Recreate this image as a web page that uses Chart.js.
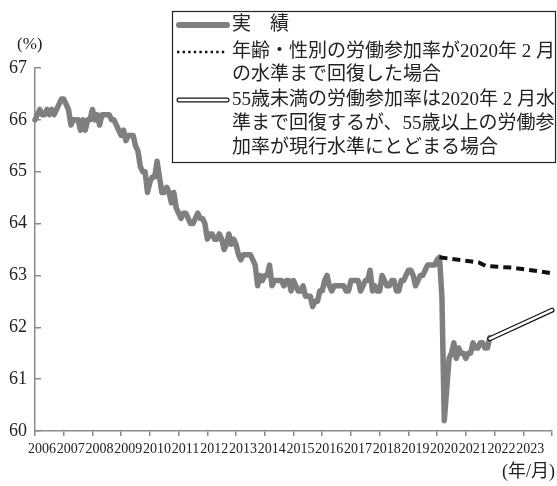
<!DOCTYPE html>
<html lang="ja">
<head>
<meta charset="utf-8">
<title>労働参加率</title>
<script src="https://cdn.jsdelivr.net/npm/chart.js@4.4.1/dist/chart.umd.min.js"></script>
<style>
  html, body { margin: 0; padding: 0; background: #fff; }
  #chart { display: block; }
</style>
</head>
<body>
<canvas id="chart" width="557" height="486"></canvas>
<script>
// --- Data (monthly) ---
const startYear = 2006;
const actualValues = [
  66.0, 66.1, 66.2, 66.1, 66.1, 66.2, 66.1, 66.2, 66.1, 66.2, 66.3, 66.4, // 2006
  66.4, 66.3, 66.2, 65.9, 66.0, 66.0, 66.0, 65.8, 66.0, 65.8, 66.0, 66.0, // 2007
  66.2, 66.0, 66.1, 65.9, 66.1, 66.1, 66.1, 66.1, 66.0, 66.0, 65.9, 65.8, // 2008
  65.7, 65.8, 65.6, 65.7, 65.7, 65.7, 65.5, 65.4, 65.1, 65.0, 65.0, 64.6, // 2009
  64.8, 64.9, 64.9, 65.2, 64.9, 64.6, 64.6, 64.7, 64.6, 64.4, 64.6, 64.3, // 2010
  64.2, 64.1, 64.2, 64.2, 64.1, 64.0, 64.0, 64.1, 64.2, 64.1, 64.1, 64.0, // 2011
  63.7, 63.8, 63.8, 63.7, 63.7, 63.8, 63.7, 63.5, 63.6, 63.8, 63.6, 63.7, // 2012
  63.6, 63.4, 63.3, 63.4, 63.4, 63.4, 63.4, 63.3, 63.2, 62.8, 63.0, 62.9, // 2013
  63.0, 63.0, 63.2, 62.8, 62.9, 62.9, 62.9, 62.9, 62.8, 62.9, 62.9, 62.7, // 2014
  62.9, 62.8, 62.7, 62.7, 62.8, 62.6, 62.6, 62.6, 62.4, 62.5, 62.5, 62.7, // 2015
  62.7, 62.9, 63.0, 62.8, 62.7, 62.8, 62.8, 62.8, 62.8, 62.8, 62.7, 62.7, // 2016
  62.9, 62.9, 62.9, 62.9, 62.7, 62.8, 62.9, 62.9, 63.1, 62.7, 62.8, 62.7, // 2017
  62.7, 63.0, 62.9, 62.8, 62.8, 62.9, 62.9, 62.7, 62.7, 62.9, 62.9, 63.0, // 2018
  63.1, 63.1, 63.0, 62.8, 62.9, 63.0, 63.0, 63.1, 63.2, 63.2, 63.2, 63.2, // 2019
  63.3, 63.35, 62.6, 60.2, 60.8, 61.4, 61.5, 61.7, 61.4, 61.6, 61.5, 61.5, // 2020
  61.4, 61.5, 61.5, 61.7, 61.6, 61.6, 61.7, 61.7, 61.6, 61.6, 61.8        // 2021
];

// scenario: participation by age/sex back to Feb 2020 level
const scenarioAYears  = [2020 + 1 / 12, 2020.6, 2021.2, 2021.45, 2021.7, 2022.6, 2023.55, 2024.0];
const scenarioAValues = [63.35, 63.31, 63.27, 63.25, 63.18, 63.15, 63.08, 63.04];

// scenario: under-55 recovers, 55+ stays at current level
const scenarioBYears  = [2021 + 10 / 12, 2024.0];
const scenarioBValues = [61.78, 62.33];

const yearLabels = ['2006', '2007', '2008', '2009', '2010', '2011', '2012', '2013', '2014',
                    '2015', '2016', '2017', '2018', '2019', '2020', '2021', '2022', '2023'];
const legendTexts = [
  ['実　績'],
  ['年齢・性別の労働参加率が2020年 2 月', 'の水準まで回復した場合'],
  ['55歳未満の労働参加率は2020年 2 月水', '準まで回復するが、55歳以上の労働参', '加率が現行水準にとどまる場合']
];

// --- Helpers ---
const GRAY = '#7f7f7f';
const AXIS = '#8a8a8a';
const SERIF = "'Liberation Serif', 'Noto Sans CJK JP', serif";

function toPoints(xs, ys) {
  return xs.map((x, i) => ({ x: x, y: ys[i] }));
}

const actualPoints = actualValues.map((v, i) => ({ x: startYear + i / 12, y: v }));

// Legend box + axis unit labels
const annotations = {
  id: 'annotations',
  afterDraw(chart) {
    const ctx = chart.ctx;
    ctx.save();

    // unit labels
    ctx.fillStyle = '#222';
    ctx.textBaseline = 'middle';
    ctx.font = '17px ' + SERIF;
    ctx.textAlign = 'left';
    ctx.fillText('(%)', 17, 45);
    ctx.textAlign = 'right';
    ctx.font = '18px ' + SERIF;
    ctx.fillText('(年/月)', 555, 472);

    // legend box
    const bx = 172, by = 11, bw = 384, bh = 152;
    ctx.fillStyle = '#fff';
    ctx.fillRect(bx, by, bw, bh);
    ctx.strokeStyle = '#222';
    ctx.lineWidth = 1.2;
    ctx.strokeRect(bx + 0.5, by + 0.5, bw - 1, bh - 1);

    const x1 = 177, x2 = 227, tx = 232;
    ctx.lineCap = 'round';

    // actual
    ctx.strokeStyle = GRAY;
    ctx.lineWidth = 6;
    ctx.beginPath(); ctx.moveTo(x1 + 2, 25); ctx.lineTo(x2, 25); ctx.stroke();

    // dotted
    ctx.strokeStyle = '#111';
    ctx.lineWidth = 2.4;
    ctx.lineCap = 'butt';
    ctx.setLineDash([2.4, 3.2]);
    ctx.beginPath(); ctx.moveTo(x1, 52); ctx.lineTo(x2, 52); ctx.stroke();
    ctx.setLineDash([]);

    // outlined
    ctx.lineCap = 'round';
    ctx.strokeStyle = '#111';
    ctx.lineWidth = 5;
    ctx.beginPath(); ctx.moveTo(x1 + 2, 100); ctx.lineTo(x2, 100); ctx.stroke();
    ctx.strokeStyle = '#fff';
    ctx.lineWidth = 2.6;
    ctx.beginPath(); ctx.moveTo(x1 + 2, 100); ctx.lineTo(x2, 100); ctx.stroke();

    // texts
    ctx.fillStyle = '#222';
    ctx.textAlign = 'left';
    ctx.textBaseline = 'middle';
    ctx.font = '19px ' + SERIF;
    const rows = [[25], [52, 75], [100, 124, 148]];
    legendTexts.forEach((lines, i) => {
      lines.forEach((line, j) => ctx.fillText(line, tx, rows[i][j]));
    });

    ctx.restore();
  }
};

// --- Chart ---
new Chart(document.getElementById('chart'), {
  type: 'line',
  data: {
    datasets: [
      {
        label: 'scenarioB-inner',
        data: toPoints(scenarioBYears, scenarioBValues),
        borderColor: '#fff',
        borderWidth: 2.6,
        borderCapStyle: 'round',
        pointRadius: 0,
        clip: false,
        order: 0
      },
      {
        label: 'scenarioB-outline',
        data: toPoints(scenarioBYears, scenarioBValues),
        borderColor: '#111',
        borderWidth: 5,
        borderCapStyle: 'round',
        pointRadius: 0,
        clip: false,
        order: 1
      },
      {
        label: 'scenarioA',
        data: toPoints(scenarioAYears, scenarioAValues),
        borderColor: '#111',
        borderWidth: 4,
        borderDash: [8, 5],
        pointRadius: 0,
        clip: false,
        order: 2
      },
      {
        label: '実績',
        data: actualPoints,
        borderColor: GRAY,
        borderWidth: 5.5,
        borderJoinStyle: 'round',
        borderCapStyle: 'round',
        pointRadius: 0,
        clip: false,
        order: 3
      }
    ]
  },
  options: {
    responsive: false,
    animation: false,
    devicePixelRatio: 1,
    layout: { padding: { top: 68, right: 4, left: 0, bottom: 0 } },
    plugins: { legend: { display: false }, tooltip: { enabled: false } },
    scales: {
      x: {
        type: 'linear',
        min: 2006,
        max: 2024,
        afterFit(scale) { scale.height = 55; },
        afterBuildTicks(scale) {
          scale.ticks = [];
          for (let y = 2006; y <= 2024; y++) scale.ticks.push({ value: y });
        },
        ticks: {
          autoSkip: false,
          maxRotation: 0,
          labelOffset: 7,
          padding: 5,
          color: '#222',
          font: { family: SERIF, size: 14 },
          callback: (v) => yearLabels[v - startYear] || ''
        },
        grid: { drawOnChartArea: false, drawTicks: true, tickLength: 5, color: AXIS, lineWidth: 1.5 },
        border: { display: true, color: AXIS, width: 1.5 }
      },
      y: {
        min: 60,
        max: 67,
        afterFit(scale) { scale.width = 35; },
        ticks: {
          stepSize: 1,
          padding: 14,
          color: '#222',
          font: { family: SERIF, size: 18 }
        },
        grid: { drawOnChartArea: false, drawTicks: true, tickLength: -6, color: AXIS, lineWidth: 1.5 },
        border: { display: true, color: AXIS, width: 1.5 }
      }
    }
  },
  plugins: [annotations]
});
</script>
</body>
</html>
